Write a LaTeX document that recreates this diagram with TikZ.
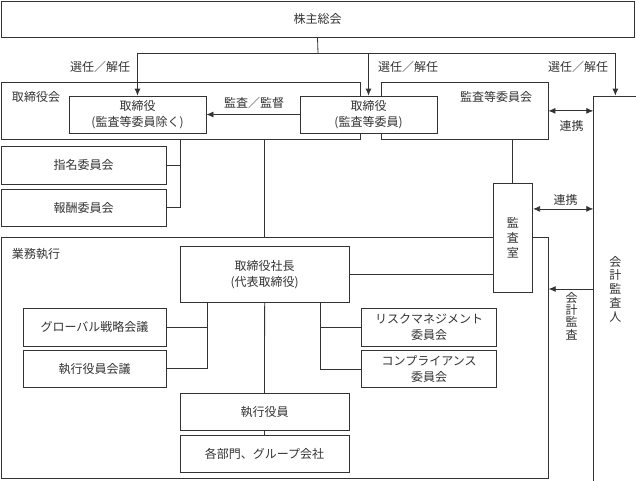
\documentclass[tikz,border=0pt]{standalone}
\usepackage{fontspec}
\setmainfont{Noto Sans CJK JP}
\usetikzlibrary{arrows.meta}

\begin{document}
\begin{tikzpicture}[x=1pt,y=-1pt,line width=0.8pt,
    every node/.style={font=\fontsize{12}{16}\selectfont,text=black!80},
    orgbox/.style={draw=black!80,fill=white,rectangle,inner sep=0pt,align=center},
    lbl/.style={inner sep=1pt},
    wire/.style={draw=black!80},
    >={Latex[length=7pt,width=6pt]}]
\useasboundingbox (0,0) rectangle (636,480);

% outer frames
\node [orgbox,minimum width=633pt,minimum height=36.3pt] (soukai) at (317.5,19.2) {株主総会};
\node [orgbox,minimum width=359pt,minimum height=56.3pt] (board) at (180.5,110.85) {};
\node [orgbox,minimum width=166.3pt,minimum height=56.3pt] (audcom) at (464.85,110.85) {};
\node [orgbox,minimum width=547.3pt,minimum height=241pt] (gyomu) at (274.65,357.8) {};
\node [orgbox,minimum width=43.3pt,minimum height=386pt,
       font=\fontsize{12}{13.8}\selectfont] (kaikei) at (615.35,289) {会\\計\\監\\査\\人};

% boxes
\node [orgbox,minimum width=137pt,minimum height=37pt] (dir) at (137.5,114.5) {取締役\\(監査等委員除く)};
\node [orgbox,minimum width=137pt,minimum height=37pt] (auddir) at (368.5,114.5) {取締役\\(監査等委員)};
\node [orgbox,minimum width=165pt,minimum height=38pt] (nomi) at (83.5,165) {指名委員会};
\node [orgbox,minimum width=165pt,minimum height=37pt] (hoshu) at (83.5,207.5) {報酬委員会};
\node [orgbox,minimum width=39.7pt,minimum height=109.4pt,
       font=\fontsize{12}{15}\selectfont] (kansa) at (512.85,238) {監\\査\\室};
\node [orgbox,minimum width=169.3pt,minimum height=56pt] (pres) at (264.65,274.7) {取締役社長\\(代表取締役)};
\node [orgbox,minimum width=143pt,minimum height=38pt] (global) at (94.5,327) {グローバル戦略会議};
\node [orgbox,minimum width=143pt,minimum height=36.3pt] (kaigi) at (94.5,368.85) {執行役員会議};
\node [orgbox,minimum width=135pt,minimum height=37.7pt] (risk) at (429.2,327.15) {リスクマネジメント\\委員会};
\node [orgbox,minimum width=135pt,minimum height=36.6pt] (comp) at (429.2,369) {コンプライアンス\\委員会};
\node [orgbox,minimum width=169pt,minimum height=36.7pt] (shikko) at (264.5,411.65) {執行役員};
\node [orgbox,minimum width=169pt,minimum height=37.4pt] (bumon) at (264.5,454) {各部門、グループ会社};

% labels
\node [lbl] (boardlbl) at (36,97) {取締役会};
\node [lbl] (audcomlbl) at (496,97) {監査等委員会};
\node [lbl] (gyomulbl) at (36,254) {業務執行};
\node [lbl] (sen1) at (100,67) {選任／解任};
\node [lbl] (sen2) at (408,67) {選任／解任};
\node [lbl] (sen3) at (578,67) {選任／解任};
\node [lbl] (kantoku) at (254,103) {監査／監督};
\node [lbl] (renkei1) at (571.7,126) {連携};
\node [lbl] (renkei2) at (565.7,200) {連携};
\node [lbl,align=center,font=\fontsize{12}{12.3}\selectfont] (kaikeilbl) at (571.7,316) {会\\計\\監\\査};

% connectors
\coordinate (split) at (318,53);
\draw [wire] (soukai.south) -- (split);
\draw [wire,->] (split) -| (dir.north);
\draw [wire,->] (split) -| (auddir.north);
\draw [wire,->] (split) -| (kaikei.north);
\draw [wire,->] (auddir.west) -- (dir.east);
\draw [wire,<->] (audcom.east) -- (audcom.east -| kaikei.west);
\draw [wire] (board.south) |- (hoshu.east);
\draw [wire] (nomi.east) -- (nomi.east -| board.south);
\draw [wire] (pres.north |- board.south) -- (pres.north |- gyomu.north);
\draw [wire] (kansa.north |- audcom.south) -- (kansa.north);
\draw [wire,<->] ([yshift=-26pt]kansa.north east) -- ([yshift=-26pt]kansa.north east -| kaikei.west);
\draw [wire] (pres.east) -- (pres.east -| kansa.west);
\coordinate (pl) at ([xshift=-57pt]pres.south);
\coordinate (pr) at ([xshift=56pt]pres.south);
\draw [wire] (pl) |- (kaigi.east);
\draw [wire] (global.east) -- (global.east -| pl);
\draw [wire] (pr) |- (comp.west);
\draw [wire] (risk.west) -- (risk.west -| pr);
\draw [wire] (pres.south) -- (shikko.north);
\draw [wire] (shikko.south) -- (bumon.north);
\draw [wire,->] (kaikei.west) -- (kaikei.west -| gyomu.east);

\end{tikzpicture}
\end{document}
